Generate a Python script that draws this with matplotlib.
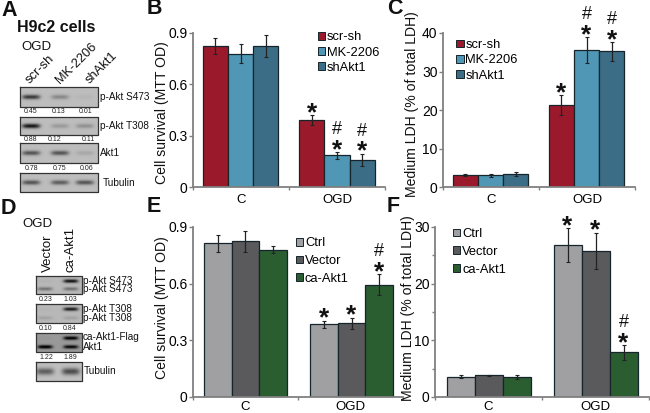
import numpy as np
import matplotlib
matplotlib.use('Agg')
import matplotlib.pyplot as plt
from matplotlib.patches import Patch

plt.rcParams['font.family'] = ['Liberation Sans', 'DejaVu Sans']

W, H = 650, 413
groups = ['C', 'OGD']
legend_b = ['scr-sh', 'MK-2206', 'shAkt1']
legend_e = ['Ctrl', 'Vector', 'ca-Akt1']
colors_b = ['#9a1a2b', '#4f97b5', '#3c6d87']
colors_e = ['#a0a0a2', '#5a5a5d', '#2a5e31']

b_vals = [[0.825, 0.78, 0.825], [0.39, 0.185, 0.16]]
b_errs = [[0.045, 0.055, 0.065], [0.03, 0.02, 0.035]]
c_vals = [[3.1, 3.0, 3.3], [21.3, 35.6, 35.2]]
c_errs = [[0.2, 0.3, 0.5], [2.5, 3.4, 2.4]]
e_vals = [[0.815, 0.825, 0.78], [0.385, 0.39, 0.595]]
e_errs = [[0.045, 0.055, 0.02], [0.02, 0.03, 0.055]]
f_vals = [[3.6, 3.8, 3.5], [26.8, 25.8, 7.9]]
f_errs = [[0.3, 0.15, 0.3], [3.0, 3.2, 1.3]]

b_hash = [0, 1, 1]
c_hash = [0, 1, 1]
e_hash = [0, 0, 1]
f_hash = [0, 0, 1]

# blot band strengths, one value per lane
a_blots = [[0.75, 0.3, 0.04], [0.95, 0.2, 0.25], [0.6, 0.6, 0.12], [0.6, 0.55, 0.6]]
a_nums = [['0.45', '0.13', '0.01'], ['0.88', '0.12', '0.11'], ['0.78', '0.75', '0.06']]
a_names = ['p-Akt S473', 'p-Akt T308', 'Akt1', 'Tubulin']
d_top = [[0.03, 0.95], [0.02, 0.9], [0.02, 0.9], [0, 0]]
d_low = [[0.4, 0.4], [0.12, 0.12], [0.95, 0.85], [0.55, 0.65]]
d_nums = [['0.23', '1.03'], ['0.10', '0.84'], ['1.22', '1.89']]

fig = plt.figure(figsize=(W / 100, H / 100), dpi=100)


def panel(x0, x1, y0, y1, ymax, yticks, minor, ylabel, vals, errs, colors, names, hashes, bar_w, centers, leg, lab, spacing, pad):
    ax = fig.add_axes([x0 / W, 1 - y0 / H, (x1 - x0) / W, (y0 - y1) / H])
    ax.patch.set_alpha(0)
    for g in range(2):
        for i in range(3):
            x = centers[g] + (i - 1) * bar_w
            ax.bar(x, vals[g][i], bar_w, color=colors[i], edgecolor='#16242c', linewidth=0.9,
                   yerr=errs[g][i], ecolor='#222222',
                   error_kw=dict(elinewidth=0.9, capsize=1.6, capthick=0.8))
    # significance marks on the OGD bars
    for i in range(3):
        x = centers[1] + (i - 1) * bar_w
        top = vals[1][i] + errs[1][i]
        ax.annotate('*', (x, top), xytext=(0, -5), textcoords='offset pixels', ha='center', va='baseline',
                    fontsize=19, fontweight='bold', color='#111111')
        if hashes[i]:
            ax.annotate('#', (x, top), xytext=(0, 18), textcoords='offset pixels', ha='center', va='baseline',
                        fontsize=13, color='#111111')
    ax.set_xlim(0, 2)
    ax.set_ylim(0, ymax)
    ax.set_xticks([0, 1, 2])
    ax.set_xticklabels([])
    ax.set_xticks([0.5, 1.5], minor=True)
    ax.set_xticklabels(groups, minor=True, fontsize=9.5)
    ax.tick_params(axis='x', which='major', length=2, width=1, color='#808080')
    ax.tick_params(axis='x', which='minor', length=0, pad=pad)
    ax.set_yticks(yticks)
    ax.set_yticklabels(['0' if t == 0 else str(t) for t in yticks], fontsize=10)
    if minor:
        ax.set_yticks(minor, minor=True)
        ax.tick_params(axis='y', which='minor', length=2.5, width=1, color='#808080')
    ax.tick_params(axis='y', which='major', length=3, width=1, color='#808080', pad=1)
    for s in ['top', 'right']:
        ax.spines[s].set_visible(False)
    for s in ['left', 'bottom']:
        ax.spines[s].set_color('#808080')
        ax.spines[s].set_linewidth(1.3)
    ax.set_ylabel(ylabel, fontsize=10.1, color='#111111')
    ax.yaxis.set_label_coords(lab[0], lab[1])
    handles = [Patch(facecolor=c, edgecolor='#16242c', linewidth=0.7) for c in colors]
    ax.legend(handles, names, loc='upper left', bbox_to_anchor=leg, frameon=False, fontsize=9.3,
              handlelength=0.55, handleheight=0.55, handletextpad=0.15, labelspacing=spacing,
              borderpad=0, borderaxespad=0)
    return ax


panel(193, 385, 187, 33, 0.9, [0, 0.3, 0.6, 0.9], None, 'Cell survival (MTT OD)', b_vals, b_errs,
      colors_b, legend_b, b_hash, 25.3 / 96, (0.495, 1.5), (0.65, 1.01), (-0.125, 0.48), 0.25, 5)
panel(443, 635, 187, 33, 40, [0, 10, 20, 30, 40], None, 'Medium LDH (% of total LDH)', c_vals, c_errs,
      colors_b, legend_b, c_hash, 25.2 / 96, (0.495, 1.495), (0.07, 0.96), (-0.125, 0.54), 0.25, 5)
panel(193, 403, 397, 227, 0.9, [0, 0.3, 0.6, 0.9], None, 'Cell survival (MTT OD)', e_vals, e_errs,
      colors_e, legend_e, e_hash, 27.7 / 105, (0.5, 1.51), (0.49, 0.94), (-0.115, 0.524), 0.45, 3)
panel(435, 649, 397, 227, 30, [0, 10, 20, 30], [5, 15, 25], 'Medium LDH (% of total LDH)', f_vals, f_errs,
      colors_e, legend_e, f_hash, 28 / 107, (0.505, 1.5), (0.085, 0.994), (-0.095, 0.52), 0.45, 3)

# overlay in pixel coordinates for blots and panel text
ov = fig.add_axes([0, 0, 1, 1])
ov.patch.set_alpha(0)
ov.axis('off')


def blot(x0, x1, y0, y1, lanes, strengths, rows, bg=0.74, sx=9.0, sy=2.3):
    nx, ny = int(x1 - x0) * 2, int(y1 - y0) * 2
    xs = np.linspace(x0, x1, nx)
    ys = np.linspace(y0, y1, ny)
    xg, yg = np.meshgrid(xs, ys)
    im = np.full(xg.shape, bg)
    for lane, st, row in zip(lanes, strengths, rows):
        im -= st * 0.7 * np.exp(-((xg - lane) / sx) ** 4 - ((yg - row) / sy) ** 2)
    im = np.clip(im, 0, 1)
    ov.imshow(im, extent=(x0, x1, y1, y0), cmap='gray', vmin=0, vmax=1, aspect='auto', interpolation='bilinear')
    ov.plot([x0, x1, x1, x0, x0], [y0, y0, y1, y1, y0], color='#333333', lw=0.9)


a_boxes = [(87, 107), (117, 135), (143, 163), (173, 192)]
a_lanes = [31, 60, 85]
a_label_x = [100, 100, 100, 103]
for k, (y0, y1) in enumerate(a_boxes):
    mid = (y0 + y1) / 2
    blot(20, 98, y0, y1, a_lanes, a_blots[k], [mid] * 3)
    ov.text(a_label_x[k], mid, a_names[k], fontsize=7.2, va='center', ha='left', color='#111111')
a_num_y = [111.5, 139.5, 168]
a_num_x = [[31, 59, 86], [31, 55, 88], [32, 60, 87]]
for k in range(3):
    for j in range(3):
        ov.text(a_num_x[k][j], a_num_y[k], a_nums[k][j], fontsize=5, ha='center', va='center', color='#222222')

d_boxes = [(276, 294), (304, 323), (333, 352), (362, 381)]
d_lanes = [45, 71]
d_names = [['p-Akt S473', 'p-Akt S473'], ['p-Akt T308', 'p-Akt T308'], ['ca-Akt1-Flag', 'Akt1'], ['Tubulin']]
for k, (y0, y1) in enumerate(d_boxes):
    if k < 3:
        rows = [y0 + 5] * 2 + [y1 - 5] * 2
        blot(36, 82, y0, y1, d_lanes * 2, d_top[k] + d_low[k], rows, bg=0.72 if k < 2 else 0.6, sx=7.5, sy=1.8)
        ov.text(83, y0 + 4.5, d_names[k][0], fontsize=7.2, va='center', ha='left', color='#111111')
        ov.text(83, y1 - 5, d_names[k][1], fontsize=7.2, va='center', ha='left', color='#111111')
    else:
        mid = (y0 + y1) / 2
        blot(36, 82, y0, y1, d_lanes, d_low[k], [mid, mid], bg=0.75, sx=9, sy=3.5)
        ov.text(84, mid, d_names[k][0], fontsize=7.2, va='center', ha='left', color='#111111')
d_num_y = [299.5, 328.5, 357.5]
for k in range(3):
    ov.text(46, d_num_y[k], d_nums[k][0], fontsize=5, ha='center', va='center', color='#222222')
    ov.text(70, d_num_y[k], d_nums[k][1], fontsize=5, ha='center', va='center', color='#222222')

# lane names
for x, name in zip([40, 76, 102], legend_b):
    ov.text(x, 86, name, rotation=45, fontsize=9.3, ha='center', va='bottom', color='#111111')
ov.text(48, 272, 'Vector', rotation=90, fontsize=9.5, ha='center', va='bottom', color='#111111')
ov.text(70, 272, 'ca-Akt1', rotation=90, fontsize=9.5, ha='center', va='bottom', color='#111111')
ov.text(21, 47, 'OGD', fontsize=9.5, va='center', color='#111111')
ov.text(22, 224, 'OGD', fontsize=9.5, va='center', color='#111111')
ov.text(17, 27, 'H9c2 cells', fontsize=11.5, fontweight='bold', va='center', color='#111111')

for x, y, s in [(1, 10, 'A'), (147, 9, 'B'), (387, 9, 'C'), (1, 208, 'D'), (147, 207, 'E'), (387, 207, 'F')]:
    ov.text(x, y, s, fontsize=15.5, fontweight='bold', va='center', ha='left', color='#111111')

ov.set_xlim(0, W)
ov.set_ylim(H, 0)
fig.savefig('out.png', dpi=100)
